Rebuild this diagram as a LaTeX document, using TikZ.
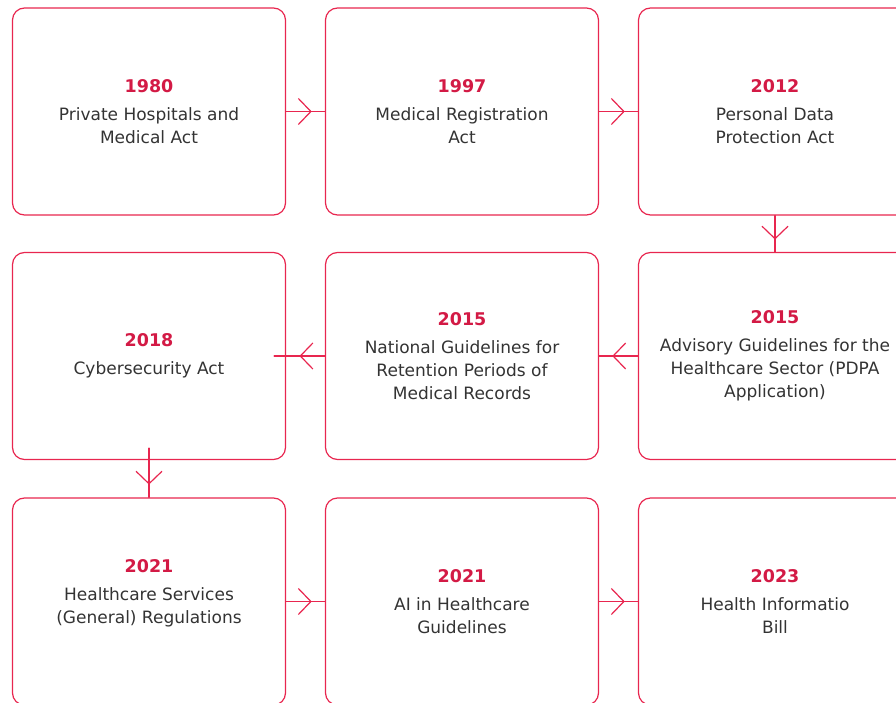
\documentclass[tikz,border=0pt]{standalone}
\usepackage{fontspec}
\setmainfont{DejaVu Sans}
\usepackage{xcolor}
\usetikzlibrary{decorations.markings,arrows.meta}
\definecolor{lawred}{HTML}{E8264F}
\definecolor{yearred}{HTML}{D31A45}
\definecolor{bodygray}{HTML}{333333}
\newcommand{\yr}[1]{{\fontsize{17.5}{23}\selectfont\bfseries\color{yearred}#1}\\[5pt]}

\begin{document}
\begin{tikzpicture}[x=1pt, y=-1pt, line join = round, line cap = round,
    box/.style={draw=lawred, line width=1.2pt, rounded corners=12pt,
      minimum width=273pt, minimum height=207pt, align=center,
      text=bodygray, font=\fontsize{17}{23}\selectfont},
    link/.style={draw=lawred, line width=1.2pt, postaction={decorate,
      decoration={markings,mark=at position #1 with {\arrow{Straight Barb[length=12.5pt,width=26pt]}}}}},
    link/.default=0.66]
                \useasboundingbox (0,0) rectangle (896,703);
                \clip (0,0) rectangle (896,703);
                % 1st row
                \node[box] (b1) at (149,111.5) {\yr{1980}Private Hospitals and\\Medical Act};
                \node[box] (b2) at (462,111.5) {\yr{1997}Medical Registration\\Act};
                \node[box] (b3) at (775,111.5) {\yr{2012}Personal Data\\Protection Act};
                % 2nd row
                \node[box] (b4) at (775,356) {\yr{2015}Advisory Guidelines for the\\Healthcare Sector (PDPA\\Application)};
                \node[box] (b5) at (462,356) {\yr{2015}National Guidelines for\\Retention Periods of\\Medical Records};
                \node[box] (b6) at (149,356) {\yr{2018}Cybersecurity Act};
                % 3rd row
                \node[box] (b7) at (149,601.5) {\yr{2021}Healthcare Services\\(General) Regulations\\[-3pt]\mbox{}};
                \node[box] (b8) at (462,601.5) {\yr{2021}AI in Healthcare\\Guidelines};
                \node[box] (b9) at (775,601.5) {\yr{2023}Health Informatio\\Bill};
                % loose ends
                \coordinate (e6) at ([xshift=-12pt]b6.east);
                \coordinate (s6) at ([yshift=12pt]b6.south);

                % across
                \draw[link] (b1.east) -- (b2.west);
                \draw[link] (b2.east) -- (b3.west);
                % down
                \draw[link] (b3.south) -- (b4.north);
                % back
                \draw[link] (b4.west) -- (b5.east);
                \draw[link=0.5] (b5.west) -- (e6);
                % down
                \draw[link=0.74] (s6) -- (b7.north);
                % across
                \draw[link] (b7.east) -- (b8.west);
                \draw[link] (b8.east) -- (b9.west);
              \end{tikzpicture}
\end{document}
